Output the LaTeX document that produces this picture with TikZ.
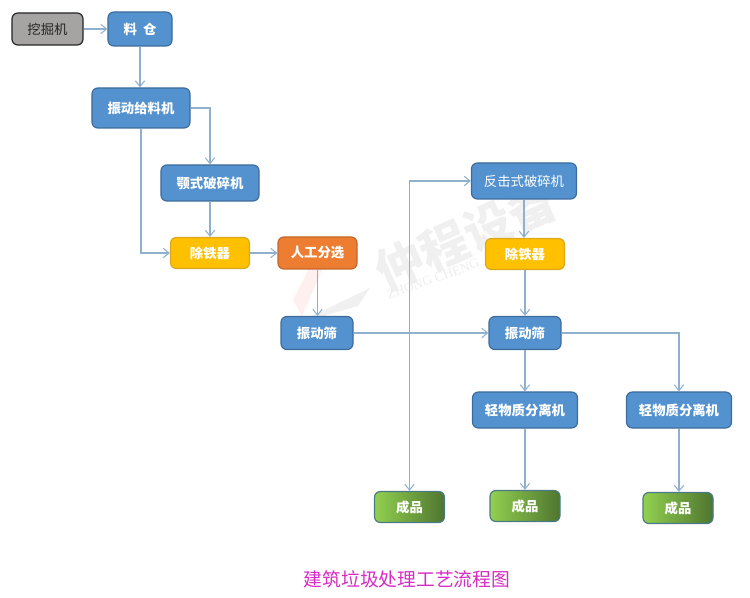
\documentclass[tikz,border=0pt]{standalone}
\usepackage{fontspec}
\setmainfont{Noto Sans CJK SC}
\newfontfamily\markfont{Liberation Serif}
\usetikzlibrary{arrows.meta}
\definecolor{flowline}{HTML}{8FB1CE}
\definecolor{blueface}{HTML}{5392CF}
\definecolor{blueedge}{HTML}{3D6C9C}
\definecolor{yellowface}{HTML}{FFC000}
\definecolor{yellowedge}{HTML}{D9A81E}
\definecolor{orangeface}{HTML}{ED7D31}
\definecolor{orangeedge}{HTML}{C5672B}
\definecolor{greyface}{HTML}{A6A3A3}
\definecolor{greenleft}{HTML}{92D050}
\definecolor{greenright}{HTML}{4F7530}
\definecolor{greenedge}{HTML}{4A7A84}
\definecolor{titletext}{HTML}{D62BC4}
\tikzset{
	procbox/.style={draw=blueedge, line width=1pt, rounded corners=5pt, fill=blueface, text=white, font=\fontsize{11.4}{14}\selectfont\bfseries},
	bluesmall/.style={procbox, minimum width=2.16cm, minimum height=0.99cm},
	bluewide/.style={procbox, minimum width=3.15cm, minimum height=1.08cm},
	yellowbox/.style={procbox, draw=yellowedge, fill=yellowface, minimum width=2.37cm, minimum height=0.93cm},
	productbox/.style={procbox, draw=greenedge, left color=greenleft, right color=greenright, minimum width=2.1cm, minimum height=0.93cm},
	flow/.style={draw=flowline, line width=0.9pt, -{Straight Barb[length=5pt,width=8pt]}}
}

\begin{document}
\begin{tikzpicture}[x=0.03cm, y=-0.03cm]
			%%%%% FRAME %%%%%
			\useasboundingbox (0, 0) rectangle (750, 598);
			
			%%%%% WATERMARK %%%%%
			\node[text=black!6, font=\fontsize{41}{41}\selectfont\bfseries, rotate=24] (markcn) at (466, 236) {仲程设备};
			\node[text=black!7, font=\fontsize{11.5}{12}\selectfont\markfont, rotate=20] (markla) at (433, 279) {ZHONG CHENG};
			\fill[red!6] (293, 300) -- (310, 266) -- (324, 266) -- (302, 316) -- cycle;
			\fill[black!6] (312, 316) -- (370, 288) -- (358, 306) -- (324, 316) -- cycle;
			
			%%%%% NODES %%%%%
			\node[procbox, draw=black!85, fill=greyface, text=black!85, font=\fontsize{11.4}{14}\selectfont, minimum width=2.13cm, minimum height=0.96cm] (digger) at (47.5, 29) {挖掘机};
			\node[procbox, minimum width=1.92cm, minimum height=1.02cm] (hopper) at (140, 29) {料\ \ 仓};
			\node[procbox, minimum width=2.94cm, minimum height=1.2cm] (feeder) at (141, 108) {振动给料机};
			\node[procbox, minimum width=2.94cm, minimum height=1.08cm] (jaw) at (210, 183) {颚式破碎机};
			\node[yellowbox] (ironA) at (210, 253) {除铁器};
			\node[procbox, draw=orangeedge, fill=orangeface, minimum width=2.37cm, minimum height=0.96cm] (manual) at (317.5, 253) {人工分选};
			\node[bluesmall] (screenA) at (317, 333) {振动筛};
			
			\node[procbox, font=\fontsize{11.4}{14}\selectfont, minimum width=3.15cm, minimum height=1.08cm] (impact) at (524, 181) {反击式破碎机};
			\node[yellowbox] (ironB) at (525, 254) {除铁器};
			\node[bluesmall] (screenB) at (525, 333) {振动筛};
			\node[bluewide] (lightA) at (525, 410) {轻物质分离机};
			\node[bluewide] (lightB) at (679, 410) {轻物质分离机};
			
			\node[productbox] (productA) at (409.5, 507) {成品};
			\node[productbox] (productB) at (525, 506) {成品};
			\node[productbox] (productC) at (678, 508) {成品};
			
			\node[text=titletext, font=\fontsize{16}{18}\selectfont] (title) at (407, 579) {建筑垃圾处理工艺流程图};
			
			%%%%% CONNECTORS %%%%%
			\draw[flow] (digger) -- (hopper);
			\draw[flow] (hopper) -- (hopper |- feeder.north);
			\draw[flow] (feeder.east) -| (jaw.north);
			\draw[flow] (jaw) -- (ironA);
			\draw[flow] (feeder.south) |- (ironA.west);
			\draw[flow] (ironA) -- (manual);
			\draw[flow] (manual) -- (manual |- screenA.north);
			\draw[flow] (screenA) -- (screenB);
			\coordinate (branch) at (productA |- screenA);
			\draw[flow] (branch) |- (impact.west);
			\draw[flow] (branch) -- (productA.north);
			\draw[flow] (impact) -- (impact |- ironB.north);
			\draw[flow] (ironB) -- (screenB);
			\draw[flow] (screenB) -- (lightA);
			\draw[flow] (screenB.east) -| (lightB.north);
			\draw[flow] (lightA) -- (productB);
			\draw[flow] (lightB) -- (lightB |- productC.north);
\end{tikzpicture}
\end{document}
